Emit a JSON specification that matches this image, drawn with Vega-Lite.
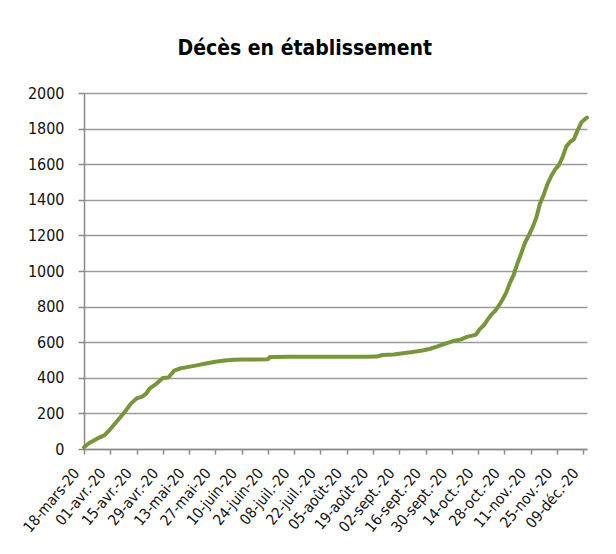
{
  "$schema": "https://vega.github.io/schema/vega-lite/v6.json",
  "width": 503,
  "height": 356,
  "autosize": {"type": "none"},
  "padding": {"left": 84, "top": 93, "right": 29, "bottom": 105},
  "background": "white",
  "title": {
    "text": "Décès en établissement",
    "font": "DejaVu Sans Condensed, Liberation Sans",
    "fontSize": 21,
    "fontWeight": "bold",
    "color": "#000000",
    "anchor": "middle",
    "frame": "bounds",
    "offset": 26
  },
  "config": {
    "view": {"stroke": null},
    "axis": {
      "labelFont": "DejaVu Sans Condensed, Liberation Sans",
      "labelColor": "#111111",
      "domainColor": "#8a8a8a",
      "tickColor": "#8a8a8a",
      "gridColor": "#9a9a9a"
    }
  },
  "data": {
    "values": [
      {"date": "2020-03-18", "deces": 10},
      {"date": "2020-03-21", "deces": 35},
      {"date": "2020-03-25", "deces": 58},
      {"date": "2020-03-29", "deces": 78},
      {"date": "2020-03-31", "deces": 100},
      {"date": "2020-04-02", "deces": 124},
      {"date": "2020-04-05", "deces": 162},
      {"date": "2020-04-09", "deces": 212},
      {"date": "2020-04-12", "deces": 255},
      {"date": "2020-04-15", "deces": 284},
      {"date": "2020-04-18", "deces": 294},
      {"date": "2020-04-20", "deces": 310},
      {"date": "2020-04-22", "deces": 340},
      {"date": "2020-04-25", "deces": 362},
      {"date": "2020-04-27", "deces": 380},
      {"date": "2020-04-29", "deces": 399},
      {"date": "2020-05-02", "deces": 402},
      {"date": "2020-05-05", "deces": 440},
      {"date": "2020-05-08", "deces": 452},
      {"date": "2020-05-12", "deces": 460},
      {"date": "2020-05-17", "deces": 470},
      {"date": "2020-05-22", "deces": 480},
      {"date": "2020-05-27", "deces": 490},
      {"date": "2020-06-01", "deces": 497},
      {"date": "2020-06-06", "deces": 501},
      {"date": "2020-06-11", "deces": 503},
      {"date": "2020-06-18", "deces": 503},
      {"date": "2020-06-24", "deces": 504},
      {"date": "2020-06-25", "deces": 517},
      {"date": "2020-07-06", "deces": 518},
      {"date": "2020-07-26", "deces": 518},
      {"date": "2020-08-15", "deces": 518},
      {"date": "2020-08-21", "deces": 519},
      {"date": "2020-08-24", "deces": 528},
      {"date": "2020-08-30", "deces": 531},
      {"date": "2020-09-04", "deces": 538},
      {"date": "2020-09-08", "deces": 543},
      {"date": "2020-09-11", "deces": 548},
      {"date": "2020-09-15", "deces": 555},
      {"date": "2020-09-18", "deces": 562},
      {"date": "2020-09-22", "deces": 575},
      {"date": "2020-09-25", "deces": 587},
      {"date": "2020-09-29", "deces": 600},
      {"date": "2020-10-02", "deces": 610},
      {"date": "2020-10-05", "deces": 616},
      {"date": "2020-10-08", "deces": 630},
      {"date": "2020-10-12", "deces": 640},
      {"date": "2020-10-13", "deces": 645},
      {"date": "2020-10-15", "deces": 675},
      {"date": "2020-10-17", "deces": 695},
      {"date": "2020-10-19", "deces": 725},
      {"date": "2020-10-21", "deces": 755},
      {"date": "2020-10-23", "deces": 775},
      {"date": "2020-10-25", "deces": 805},
      {"date": "2020-10-27", "deces": 840},
      {"date": "2020-10-29", "deces": 880},
      {"date": "2020-10-31", "deces": 935},
      {"date": "2020-11-02", "deces": 980},
      {"date": "2020-11-04", "deces": 1045},
      {"date": "2020-11-06", "deces": 1100},
      {"date": "2020-11-08", "deces": 1160},
      {"date": "2020-11-10", "deces": 1200},
      {"date": "2020-11-12", "deces": 1245},
      {"date": "2020-11-14", "deces": 1300},
      {"date": "2020-11-16", "deces": 1380},
      {"date": "2020-11-18", "deces": 1430},
      {"date": "2020-11-20", "deces": 1490},
      {"date": "2020-11-22", "deces": 1535},
      {"date": "2020-11-24", "deces": 1570},
      {"date": "2020-11-26", "deces": 1595},
      {"date": "2020-11-28", "deces": 1640},
      {"date": "2020-11-30", "deces": 1700},
      {"date": "2020-12-02", "deces": 1725},
      {"date": "2020-12-04", "deces": 1740},
      {"date": "2020-12-06", "deces": 1790},
      {"date": "2020-12-08", "deces": 1835},
      {"date": "2020-12-09", "deces": 1845},
      {"date": "2020-12-11", "deces": 1862}
    ]
  },
  "mark": {"type": "line", "color": "#77963A", "strokeWidth": 4, "strokeJoin": "round", "strokeCap": "round"},
  "encoding": {
    "x": {
      "field": "date",
      "type": "temporal",
      "scale": {
        "type": "utc",
        "domain": [
          {"year": 2020, "month": 3, "date": 18, "utc": true},
          {"year": 2020, "month": 12, "date": 11, "utc": true}
        ]
      },
      "axis": {
        "title": null,
        "grid": false,
        "values": [
          {"year": 2020, "month": 3, "date": 18, "utc": true},
          {"year": 2020, "month": 4, "date": 1, "utc": true},
          {"year": 2020, "month": 4, "date": 15, "utc": true},
          {"year": 2020, "month": 4, "date": 29, "utc": true},
          {"year": 2020, "month": 5, "date": 13, "utc": true},
          {"year": 2020, "month": 5, "date": 27, "utc": true},
          {"year": 2020, "month": 6, "date": 10, "utc": true},
          {"year": 2020, "month": 6, "date": 24, "utc": true},
          {"year": 2020, "month": 7, "date": 8, "utc": true},
          {"year": 2020, "month": 7, "date": 22, "utc": true},
          {"year": 2020, "month": 8, "date": 5, "utc": true},
          {"year": 2020, "month": 8, "date": 19, "utc": true},
          {"year": 2020, "month": 9, "date": 2, "utc": true},
          {"year": 2020, "month": 9, "date": 16, "utc": true},
          {"year": 2020, "month": 9, "date": 30, "utc": true},
          {"year": 2020, "month": 10, "date": 14, "utc": true},
          {"year": 2020, "month": 10, "date": 28, "utc": true},
          {"year": 2020, "month": 11, "date": 11, "utc": true},
          {"year": 2020, "month": 11, "date": 25, "utc": true},
          {"year": 2020, "month": 12, "date": 9, "utc": true}
        ],
        "labelExpr": "utcFormat(datum.value, '%d') + '-' + ['janv.','févr.','mars','avr.','mai','juin','juil.','août','sept.','oct.','nov.','déc.'][utcmonth(datum.value)] + '-20'",
        "labelAngle": -50,
        "labelFontSize": 15,
        "labelPadding": 16,
        "labelOffset": -8,
        "tickSize": 5,
        "domainWidth": 1.5,
        "tickWidth": 1.5,
        "labelOverlap": false,
        "labelFlush": false,
        "labelBound": false
      }
    },
    "y": {
      "field": "deces",
      "type": "quantitative",
      "scale": {"domain": [0, 2000], "nice": false},
      "axis": {
        "title": null,
        "format": "d",
        "values": [0, 200, 400, 600, 800, 1000, 1200, 1400, 1600, 1800, 2000],
        "labelFontSize": 16,
        "labelPadding": 14,
        "tickSize": 6,
        "tickWidth": 1.5,
        "domainWidth": 1.5,
        "gridWidth": 1.5,
        "labelFlush": false
      }
    }
  }
}
